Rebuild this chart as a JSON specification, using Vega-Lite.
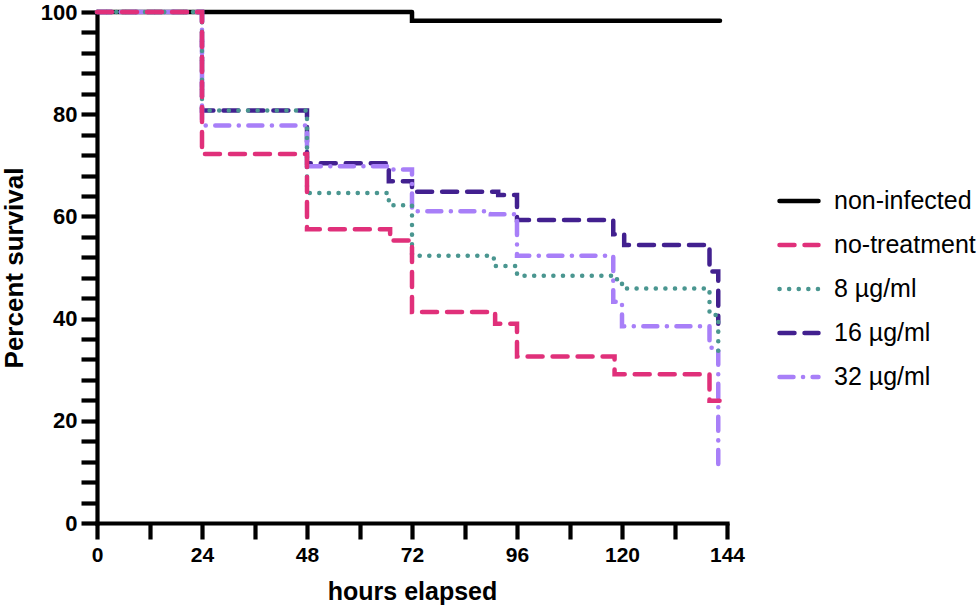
{
  "$schema": "https://vega.github.io/schema/vega-lite/v6.json",
  "width": 630,
  "height": 511,
  "autosize": "none",
  "padding": {"left": 97, "top": 12, "right": 253, "bottom": 88},
  "background": "white",
  "config": {
    "view": {"stroke": null},
    "font": "Liberation Sans",
    "legend": {
      "orient": "none",
      "legendX": 680,
      "legendY": 167,
      "padding": 0,
      "symbolType": "stroke",
      "symbolSize": 1521,
      "symbolStrokeWidth": 4.5,
      "labelFont": "Liberation Sans",
      "labelFontSize": 25,
      "labelColor": "black",
      "labelOffset": 13,
      "rowPadding": 9,
      "labelLimit": 300
    }
  },
  "data": {
    "values": [
      {"group": "non-infected", "hours": 0, "survival": 100},
      {"group": "non-infected", "hours": 72, "survival": 98.3},
      {"group": "non-infected", "hours": 142.4, "survival": 98.3},

      {"group": "16 µg/ml", "hours": 0, "survival": 100},
      {"group": "16 µg/ml", "hours": 24, "survival": 80.7},
      {"group": "16 µg/ml", "hours": 48, "survival": 70.4},
      {"group": "16 µg/ml", "hours": 66.7, "survival": 66.9},
      {"group": "16 µg/ml", "hours": 72, "survival": 64.8},
      {"group": "16 µg/ml", "hours": 91.7, "survival": 64.2},
      {"group": "16 µg/ml", "hours": 96, "survival": 59.3},
      {"group": "16 µg/ml", "hours": 118, "survival": 56.5},
      {"group": "16 µg/ml", "hours": 120.5, "survival": 54.4},
      {"group": "16 µg/ml", "hours": 140, "survival": 49.2},
      {"group": "16 µg/ml", "hours": 142, "survival": 39.0},

      {"group": "32 µg/ml", "hours": 0, "survival": 100},
      {"group": "32 µg/ml", "hours": 24, "survival": 77.8},
      {"group": "32 µg/ml", "hours": 48, "survival": 69.8},
      {"group": "32 µg/ml", "hours": 66.7, "survival": 69.2},
      {"group": "32 µg/ml", "hours": 72, "survival": 61.0},
      {"group": "32 µg/ml", "hours": 90, "survival": 60.4},
      {"group": "32 µg/ml", "hours": 96, "survival": 52.3},
      {"group": "32 µg/ml", "hours": 118, "survival": 43.3},
      {"group": "32 µg/ml", "hours": 120, "survival": 38.5},
      {"group": "32 µg/ml", "hours": 140, "survival": 34.3},
      {"group": "32 µg/ml", "hours": 142, "survival": 10.8},

      {"group": "8 µg/ml", "hours": 0, "survival": 100},
      {"group": "8 µg/ml", "hours": 24, "survival": 80.7},
      {"group": "8 µg/ml", "hours": 48, "survival": 64.6},
      {"group": "8 µg/ml", "hours": 66.7, "survival": 62.2},
      {"group": "8 µg/ml", "hours": 72, "survival": 52.3},
      {"group": "8 µg/ml", "hours": 90.7, "survival": 50.3},
      {"group": "8 µg/ml", "hours": 96, "survival": 48.4},
      {"group": "8 µg/ml", "hours": 118, "survival": 47.7},
      {"group": "8 µg/ml", "hours": 120, "survival": 45.9},
      {"group": "8 µg/ml", "hours": 140, "survival": 40.7},
      {"group": "8 µg/ml", "hours": 142, "survival": 33.0},

      {"group": "no-treatment", "hours": 0, "survival": 100},
      {"group": "no-treatment", "hours": 24, "survival": 72.2},
      {"group": "no-treatment", "hours": 48, "survival": 57.5},
      {"group": "no-treatment", "hours": 67, "survival": 55.3},
      {"group": "no-treatment", "hours": 72, "survival": 41.3},
      {"group": "no-treatment", "hours": 91, "survival": 39.0},
      {"group": "no-treatment", "hours": 96, "survival": 32.6},
      {"group": "no-treatment", "hours": 118.3, "survival": 29.1},
      {"group": "no-treatment", "hours": 140, "survival": 23.9},
      {"group": "no-treatment", "hours": 142.3, "survival": 23.9}
    ]
  },
  "mark": {"type": "line", "interpolate": "step-after", "strokeWidth": 4.5, "strokeCap": "round"},
  "encoding": {
    "x": {
      "field": "hours",
      "type": "quantitative",
      "scale": {"domain": [0, 144], "nice": false},
      "axis": {
        "title": "hours elapsed",
        "values": [0, 12, 24, 36, 48, 60, 72, 84, 96, 108, 120, 132, 144],
        "labelExpr": "datum.value % 24 === 0 ? datum.label : ''",
        "labelOverlap": false,
        "labelFlush": false,
        "grid": false,
        "domainColor": "black",
        "domainWidth": 4.2,
        "domainCap": "square",
        "tickColor": "black",
        "tickWidth": 4.2,
        "tickSize": 16,
        "labelFont": "Liberation Sans",
        "labelFontWeight": "bold",
        "labelFontSize": 21,
        "labelColor": "black",
        "labelPadding": 5,
        "titleFont": "Liberation Sans",
        "titleFontWeight": "bold",
        "titleFontSize": 25,
        "titleColor": "black",
        "titlePadding": 14,
        "encode": {"ticks": {"update": {"y2": {"signal": "datum.value % 24 === 0 ? 16 : 10"}}}}
      }
    },
    "y": {
      "field": "survival",
      "type": "quantitative",
      "scale": {"domain": [0, 100], "nice": false},
      "axis": {
        "title": "Percent survival",
        "values": [0, 4, 8, 12, 16, 20, 24, 28, 32, 36, 40, 44, 48, 52, 56, 60, 64, 68, 72, 76, 80, 84, 88, 92, 96, 100],
        "labelExpr": "datum.value % 20 === 0 ? datum.label : ''",
        "labelOverlap": false,
        "labelFlush": false,
        "grid": false,
        "domainColor": "black",
        "domainWidth": 4.2,
        "domainCap": "square",
        "tickColor": "black",
        "tickWidth": 4.2,
        "tickSize": 16,
        "labelFont": "Liberation Sans",
        "labelFontWeight": "bold",
        "labelFontSize": 22,
        "labelColor": "black",
        "labelPadding": 4,
        "titleFont": "Liberation Sans",
        "titleFontWeight": "bold",
        "titleFontSize": 26,
        "titleColor": "black",
        "titlePadding": 13,
        "encode": {"ticks": {"update": {"x2": {"signal": "datum.value % 20 === 0 ? -16 : -10"}}}}
      }
    },
    "color": {
      "field": "group",
      "type": "nominal",
      "scale": {
        "domain": ["non-infected", "no-treatment", "8 µg/ml", "16 µg/ml", "32 µg/ml"],
        "range": ["#000000", "#E0307A", "#4A9690", "#42208F", "#A87FF8"]
      },
      "legend": {"title": null, "encode": {"symbols": {"update": {"strokeCap": {"value": "round"}}}}}
    },
    "strokeDash": {
      "field": "group",
      "type": "nominal",
      "scale": {
        "domain": ["non-infected", "no-treatment", "8 µg/ml", "16 µg/ml", "32 µg/ml"],
        "range": [[1, 0], [15, 10], [0.1, 9.5], [15, 10], [14, 9.5, 0.1, 9.5]]
      },
      "legend": {"title": null, "encode": {"symbols": {"update": {"strokeCap": {"value": "round"}}}}}
    }
  }
}
